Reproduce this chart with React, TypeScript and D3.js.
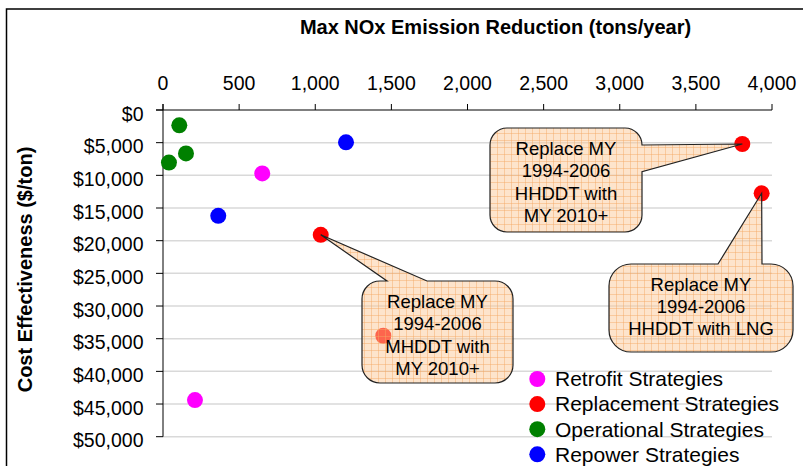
import React from "react";
import * as d3 from "d3";

const xTicks = [0, 500, 1000, 1500, 2000, 2500, 3000, 3500, 4000];
const yTicks = [0, 5000, 10000, 15000, 20000, 25000, 30000, 35000, 40000, 45000, 50000];

const seriesNames = ["Retrofit Strategies", "Replacement Strategies", "Operational Strategies", "Repower Strategies"];
const seriesColors = ["#ff00ff", "#ff0000", "#008000", "#0000ff"];

const retrofitX = [652, 210];
const retrofitY = [9700, 44400];
const replacementX = [1036, 3805, 3932, 1447];
const replacementY = [19100, 5200, 12750, 34550];
const operationalX = [107, 151, 39];
const operationalY = [2350, 6650, 8050];
const repowerX = [1202, 363];
const repowerY = [4950, 16200];

const calloutTexts = [
  ["Replace MY", "1994-2006", "HHDDT with", "MY 2010+"],
  ["Replace MY", "1994-2006", "HHDDT with LNG"],
  ["Replace MY", "1994-2006", "MHDDT with", "MY 2010+"],
];

const FONT = "'Liberation Sans', Arial, Helvetica, sans-serif";

export default function App() {
  const x = d3.scaleLinear().domain([0, 4000]).range([163, 772]);
  const y = d3.scaleLinear().domain([0, 50000]).range([110, 436.7]);
  const fmtX = d3.format(",");
  const fmtY = (v: number) => "$" + d3.format(",")(v);

  const series = [
    { xs: retrofitX, ys: retrofitY },
    { xs: replacementX, ys: replacementY },
    { xs: operationalX, ys: operationalY },
    { xs: repowerX, ys: repowerY },
  ];

  type Wedge = { side: "top" | "right"; a: number; b: number; tx: number; ty: number };
  const calloutPath = (x0: number, y0: number, x1: number, y1: number, r: number, w: Wedge) => {
    let p = `M${x0 + r},${y0}`;
    if (w.side === "top") p += ` L${w.a},${y0} L${w.tx},${w.ty} L${w.b},${y0}`;
    p += ` L${x1 - r},${y0} A${r},${r} 0 0 1 ${x1},${y0 + r}`;
    if (w.side === "right") p += ` L${x1},${w.a} L${w.tx},${w.ty} L${x1},${w.b}`;
    p += ` L${x1},${y1 - r} A${r},${r} 0 0 1 ${x1 - r},${y1}`;
    p += ` L${x0 + r},${y1} A${r},${r} 0 0 1 ${x0},${y1 - r}`;
    p += ` L${x0},${y0 + r} A${r},${r} 0 0 1 ${x0 + r},${y0} Z`;
    return p;
  };

  const callouts = [
    {
      box: [490, 128, 642, 232], r: 17,
      wedge: { side: "right" as const, a: 145, b: 171.7, tx: x(replacementX[1]), ty: y(replacementY[1]) },
      cx: 566, lines: calloutTexts[0], ly0: 148.5, dy: 22.3,
    },
    {
      box: [609, 264, 793, 352], r: 22,
      wedge: { side: "top" as const, a: 718, b: 762, tx: x(replacementX[2]), ty: y(replacementY[2]) },
      cx: 701, lines: calloutTexts[1], ly0: 284.5, dy: 22,
    },
    {
      box: [362, 281, 513, 383], r: 18,
      wedge: { side: "top" as const, a: 387, b: 427, tx: x(replacementX[0]), ty: y(replacementY[0]) },
      cx: 437.5, lines: calloutTexts[2], ly0: 301.5, dy: 22.3,
    },
  ];

  return (
    <svg width={803} height={466} style={{ position: "absolute", left: 0, top: 0, background: "#fff" }} fontFamily={FONT}>
      <defs>
        <pattern id="grid" width={7} height={7} patternUnits="userSpaceOnUse">
          <rect width={7} height={7} fill="#fbc999" fillOpacity={0.5} />
          <path d="M0,0.5 H7 M0.5,0 V7" stroke="#f5a865" strokeWidth={1} strokeOpacity={0.45} />
        </pattern>
      </defs>
      <rect x={0} y={0} width={803} height={466} fill="#fff" />
      <rect x={6.5} y={9} width={900} height={600} fill="none" stroke="#000" strokeWidth={1.5} />

      {/* title */}
      <text x={495.5} y={34} textAnchor="middle" fontSize={20} fontWeight="bold" fill="#000">
        Max NOx Emission Reduction (tons/year)
      </text>
      <text transform={`translate(32,269.5) rotate(-90)`} textAnchor="middle" fontSize={20} fontWeight="bold" fill="#000">
        Cost Effectiveness ($/ton)
      </text>

      {/* gridlines */}
      {yTicks.slice(1).map((t) => (
        <line key={"g" + t} x1={x(0)} x2={x(4000)} y1={y(t)} y2={y(t)} stroke="#d9d9d9" strokeWidth={1.5} />
      ))}

      {/* axes */}
      <line x1={156} x2={x(4000)} y1={y(0)} y2={y(0)} stroke="#000" strokeWidth={1} />
      <line x1={x(0)} x2={x(0)} y1={104} y2={y(50000)} stroke="#000" strokeWidth={1} />
      {xTicks.map((t) => (
        <g key={"xt" + t}>
          <line x1={x(t)} x2={x(t)} y1={y(0)} y2={104} stroke="#000" strokeWidth={1} />
          <text x={x(t)} y={90} textAnchor="middle" fontSize={19.5} fill="#000">
            {fmtX(t)}
          </text>
        </g>
      ))}
      {yTicks.map((t) => (
        <g key={"yt" + t}>
          <line x1={156} x2={x(0)} y1={y(t)} y2={y(t)} stroke="#000" strokeWidth={1} />
          <text x={143.5} y={y(t) + 10.5} textAnchor="end" fontSize={19.5} fill="#000">
            {fmtY(t)}
          </text>
        </g>
      ))}

      {/* points */}
      {series.map((s, i) =>
        s.xs.map((xv, j) => (
          <circle key={`p${i}-${j}`} cx={x(xv)} cy={y(s.ys[j])} r={8} fill={seriesColors[i]} />
        ))
      )}

      {/* callouts */}
      {callouts.map((c, i) => (
        <g key={"c" + i}>
          <path d={calloutPath(c.box[0], c.box[1], c.box[2], c.box[3], c.r, c.wedge)} fill="url(#grid)" stroke="#222" strokeWidth={1.2} />
          {c.lines.map((l, k) => (
            <text key={k} x={c.cx} y={c.ly0 + k * c.dy + 6.6} textAnchor="middle" fontSize={18.5} fill="#000">
              {l}
            </text>
          ))}
        </g>
      ))}

      {/* legend */}
      {seriesNames.map((n, i) => (
        <g key={"l" + i}>
          <circle cx={537.3} cy={379 + i * 25.1} r={8} fill={seriesColors[i]} />
          <text x={555} y={379 + i * 25.1 + 7.3} fontSize={21} fill="#000">
            {n}
          </text>
        </g>
      ))}
    </svg>
  );
}
